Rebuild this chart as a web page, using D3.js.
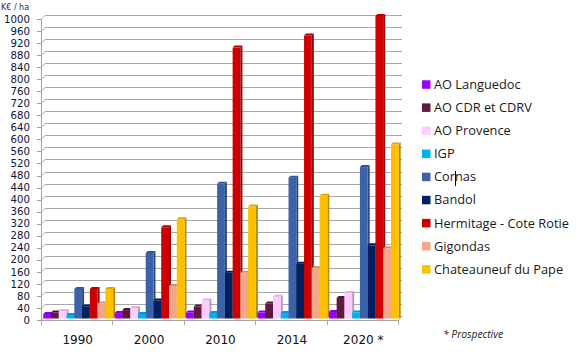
<!DOCTYPE html>
<html><head><meta charset="utf-8">
<script src="https://cdn.jsdelivr.net/npm/d3@7"></script>
<style>body{margin:0;background:#fff}svg{display:block}</style>
</head><body>
<svg id="c" width="579" height="359"></svg>
<script>
const categories = ["1990", "2000", "2010", "2014", "2020 *"];
const seriesNames = ["AO Languedoc", "AO CDR et CDRV", "AO Provence", "IGP", "Cornas", "Bandol", "Hermitage - Cote Rotie", "Gigondas", "Chateauneuf du Pape"];
const seriesColors = ["#9900FF", "#60183F", "#FFCCFF", "#00B0F0", "#3C62AA", "#002060", "#CC0000", "#F2A68A", "#FFC000"];
const languedoc   = [15, 18, 20, 20, 22];
const cdr         = [20, 28, 40, 50, 68];
const provence    = [25, 35, 60, 72, 85];
const igp         = [12, 15, 18, 18, 20];
const cornas      = [98, 218, 448, 468, 503];
const bandol      = [40, 60, 152, 182, 243];
const hermitage   = [98, 303, 900, 940, 1005];
const gigondas    = [50, 108, 152, 168, 233];
const chateauneuf = [98, 330, 372, 408, 578];
const seriesValues = [languedoc, cdr, provence, igp, cornas, bandol, hermitage, gigondas, chateauneuf];
const yTicks = d3.range(0, 1001, 40);

const svg = d3.select("#c");
const x0 = 41, x1 = 398, DX = 4, DY = 4;
const y = d3.scaleLinear().domain([0, 1000]).range([320, 19]);
const xb = d3.scaleBand().domain(categories).range([x0, x1]).paddingInner(0).paddingOuter(0);
const xs = d3.scaleBand().domain(seriesNames).range([0, xb.bandwidth()]).paddingOuter(0.1).paddingInner(0);

// gridlines (back wall) + diagonal tick connectors
const grid = svg.append("g");
yTicks.forEach(t => {
  const yy = Math.round(y(t)) + 0.5;
  grid.append("line").attr("x1", x0 + DX).attr("x2", x1 + DX).attr("y1", yy - DY).attr("y2", yy - DY)
    .attr("stroke", "#a8a8a8").attr("stroke-width", 1);
  grid.append("path").attr("d", `M${x0},${yy}L${x0 + DX},${yy - DY}`).attr("stroke", "#a8a8a8").attr("fill", "none");
  grid.append("line").attr("x1", x0 - 4).attr("x2", x0).attr("y1", yy).attr("y2", yy).attr("stroke", "#a0a0a0");
});
// left axis
svg.append("line").attr("x1", x0 + 0.5).attr("x2", x0 + 0.5).attr("y1", y(1000)).attr("y2", y(0) + 4).attr("stroke", "#a6a6a6");
// floor front edge and right diagonal
svg.append("line").attr("x1", x0).attr("x2", x1).attr("y1", y(0) + 0.5).attr("y2", y(0) + 0.5).attr("stroke", "#a6a6a6");
svg.append("path").attr("d", `M${x1},${y(0) + 0.5}L${x1 + DX},${y(0) + 0.5 - DY}`).attr("stroke", "#a6a6a6").attr("fill", "none");
// category ticks
categories.concat(["_end"]).forEach((c, i) => {
  const xx = Math.round(x0 + i * xb.bandwidth()) + 0.5;
  svg.append("line").attr("x1", xx).attr("x2", xx).attr("y1", y(0)).attr("y2", y(0) + 5).attr("stroke", "#a6a6a6");
});

// y labels
svg.append("g").selectAll("text").data(yTicks).join("text")
  .attr("x", 30).attr("y", d => y(d)).attr("dy", "0.36em").attr("text-anchor", "end")
  .attr("font-family", "DejaVu Sans").attr("font-size", 10.2).attr("fill", "#10123a").text(d => d);
svg.append("text").attr("x", 1).attr("y", 10).attr("font-family", "DejaVu Sans").attr("font-size", 8)
  .attr("fill", "#1f2a55").text("K€ / ha");

// x labels
svg.append("g").selectAll("text").data(categories).join("text")
  .attr("x", d => xb(d) + xb.bandwidth() / 2 + 1).attr("y", 344).attr("text-anchor", "middle")
  .attr("font-family", "DejaVu Sans").attr("font-size", 12).attr("fill", "#111").text(d => d);

// bars
const bw = xs.bandwidth();
const sd = 2; // bar depth
const bars = svg.append("g");
categories.forEach((c, ci) => {
  seriesNames.forEach((s, si) => {
    const v = seriesValues[si][ci];
    const col = d3.color(seriesColors[si]);
    const bx = xb(c) + xs(s) + 1.5;
    const base = y(0) - 1.5;
    const top = y(v) - 1.5;
    bars.append("path").attr("d", `M${bx + bw},${top}L${bx + bw + sd},${top - sd}L${bx + bw + sd},${base - sd}L${bx + bw},${base}Z`)
      .attr("fill", col.darker(0.9));
    bars.append("path").attr("d", `M${bx},${top}L${bx + sd},${top - sd}L${bx + bw + sd},${top - sd}L${bx + bw},${top}Z`)
      .attr("fill", col.darker(0.4));
    bars.append("rect").attr("x", bx).attr("y", top).attr("width", bw).attr("height", base - top).attr("fill", col);
  });
});

// legend
const lg = svg.append("g");
seriesNames.forEach((s, i) => {
  const cy = 84.3 + i * 23.1;
  lg.append("rect").attr("x", 422).attr("y", cy - 4).attr("width", 8.5).attr("height", 8.5).attr("fill", seriesColors[i]);
  lg.append("text").attr("x", 434).attr("y", cy).attr("dy", "0.36em").attr("font-family", "Open Sans")
    .attr("font-size", 12.8).attr("fill", "#1a1a1a").text(s);
});
// text cursor artifact
svg.append("line").attr("x1", 455.5).attr("x2", 455.5).attr("y1", 171).attr("y2", 186).attr("stroke", "#000");

svg.append("text").attr("x", 443).attr("y", 338).attr("font-family", "Open Sans").attr("font-style", "italic")
  .attr("font-size", 10.3).attr("fill", "#1a1a1a").text("* Prospective");
</script>
</body></html>
